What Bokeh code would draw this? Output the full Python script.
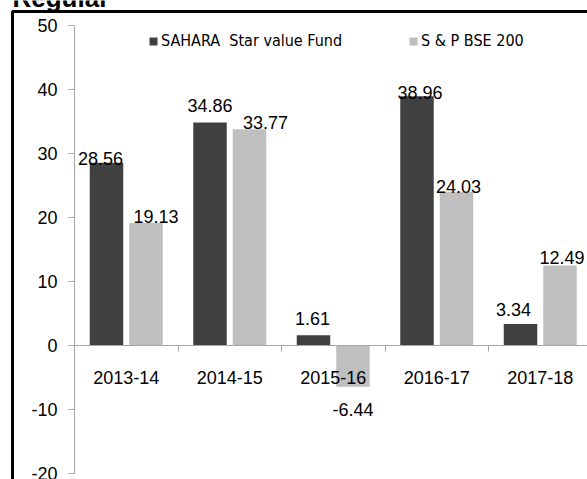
import numpy as np
from bokeh.plotting import figure
from bokeh.models import (ColumnDataSource, FixedTicker, Legend, LegendItem,
                          BoxAnnotation, LinearAxis)
from bokeh.transform import dodge
from bokeh.core.properties import value
from bokeh.embed import file_html
from bokeh.resources import INLINE

# ---- data ----
title = "Regular"
categories = ["2013-14", "2014-15", "2015-16", "2016-17", "2017-18"]
fund = [28.56, 34.86, 1.61, 38.96, 3.34]
index = [19.13, 33.77, -6.44, 24.03, 12.49]
series_names = ["SAHARA  Star value Fund", "S & P BSE 200"]
y_ticks = [-20, -10, 0, 10, 20, 30, 40, 50]

# ---- styling (pixel offsets of the value labels, as placed in the original) ----
fund_dx = [-6, 0, -1, 3, -7]
fund_dy = [-4, -17, -17, -4, -15]
index_dx = [10, 16, 0, 2, 2]
index_dy = [-7, -7, 23, -5, -8]

DARK = "#404040"
LIGHT = "#BFBFBF"
AXIS = "#A6A6A6"
NUM_FONT = "Liberation Sans"
LEG_FONT = "'Liberation Sans Narrow', 'DejaVu Sans Condensed', 'Liberation Sans'"

W, H = 587, 479
# geometry: category width 103.5 px, x=0 at 74 px; y: 6.4 px per unit, y=0 at 345 px
cat_px = 103.5
x0 = 74
x_start = -x0 / cat_px
x_end = x_start + W / cat_px
ppu = 6.4
zero_px = 345
y_end = zero_px / ppu
y_start = -(H - zero_px) / ppu

n = len(categories)
pos = [i + 0.5 for i in range(n)]
src = ColumnDataSource(dict(
    x=pos, fund=fund, index=index,
    fund_lbl=[f"{v:.2f}" for v in fund], index_lbl=[f"{v:.2f}" for v in index],
    fund_dx=fund_dx, fund_dy=fund_dy, index_dx=index_dx, index_dy=index_dy,
))

p = figure(width=W, height=H, output_backend="svg", toolbar_location=None,
           x_range=(x_start, x_end), y_range=(y_start, y_end),
           min_border=0, min_border_left=0, min_border_right=0,
           min_border_top=0, min_border_bottom=0,
           x_axis_location=None, y_axis_location=None)
p.outline_line_color = None
p.background_fill_color = "white"
p.border_fill_color = "white"
p.grid.visible = False

yaxis = LinearAxis(fixed_location=0, bounds=(-20, 50),
                   ticker=FixedTicker(ticks=y_ticks, minor_ticks=[]))
yaxis.major_label_overrides = {t: str(t) for t in y_ticks}
yaxis.axis_line_color = AXIS
yaxis.major_tick_line_color = AXIS
yaxis.major_tick_out = 6
yaxis.major_tick_in = 0
yaxis.minor_tick_line_color = None
yaxis.major_label_standoff = 11
yaxis.major_label_text_font = NUM_FONT
yaxis.major_label_text_font_size = "18px"
yaxis.major_label_text_color = "black"
p.add_layout(yaxis, "left")

xaxis = LinearAxis(fixed_location=0, bounds=(0, n),
                   ticker=FixedTicker(ticks=pos, minor_ticks=[i + 1 for i in range(n)]))
xaxis.major_label_overrides = {pos[i]: categories[i] for i in range(n)}
xaxis.axis_line_color = AXIS
xaxis.major_tick_line_color = None
xaxis.major_tick_out = 0
xaxis.major_tick_in = 0
xaxis.minor_tick_line_color = AXIS
xaxis.minor_tick_out = 6
xaxis.minor_tick_in = 0
xaxis.major_label_standoff = 19
xaxis.major_label_text_font = NUM_FONT
xaxis.major_label_text_font_size = "18px"
xaxis.major_label_text_color = "black"
p.add_layout(xaxis, "below")

bw = 33.5 / cat_px
off = 19.75 / cat_px
r1 = p.vbar(x=dodge("x", -off, range=p.x_range), top="fund", width=bw, bottom=0,
            source=src, fill_color=DARK, line_color=None)
r2 = p.vbar(x=dodge("x", off, range=p.x_range), top="index", width=bw, bottom=0,
            source=src, fill_color=LIGHT, line_color=None)

p.text(x=dodge("x", -off, range=p.x_range), y="fund", text="fund_lbl", source=src,
       x_offset="fund_dx", y_offset="fund_dy", text_align="center",
       text_baseline="alphabetic", text_font=value(NUM_FONT), text_font_size="18px",
       text_color="black")
p.text(x=dodge("x", off, range=p.x_range), y="index", text="index_lbl", source=src,
       x_offset="index_dx", y_offset="index_dy", text_align="center",
       text_baseline="alphabetic", text_font=value(NUM_FONT), text_font_size="18px",
       text_color="black")

legend = Legend(items=[LegendItem(label=series_names[0], renderers=[r1]),
                       LegendItem(label=series_names[1], renderers=[r2])],
                orientation="horizontal", location=(148, H - 50),
                glyph_width=10, glyph_height=10, label_standoff=3, spacing=66,
                padding=0, margin=0, border_line_color=None,
                background_fill_alpha=0, label_text_font=LEG_FONT,
                label_text_font_size="16px", label_text_color="black")
p.add_layout(legend, "center")

# outer chart border (left and top edges visible; right and bottom lie outside the picture)
border = BoxAnnotation(left=x_start + 12 / cat_px, top=y_end - 11 / ppu,
                       right=x_end + 1, bottom=y_start - 5,
                       fill_alpha=0, line_color="black", line_width=3, line_alpha=1)
p.add_layout(border)

# title, mostly above the visible area
p.text(x=[x_start], y=[y_end], text=[title], x_offset=12, y_offset=-3,
       text_baseline="alphabetic", text_align="left",
       text_font=value("Liberation Sans"), text_font_style="bold",
       text_font_size="26px", text_color="black")

open("out.html", "w").write(file_html(p, INLINE))
